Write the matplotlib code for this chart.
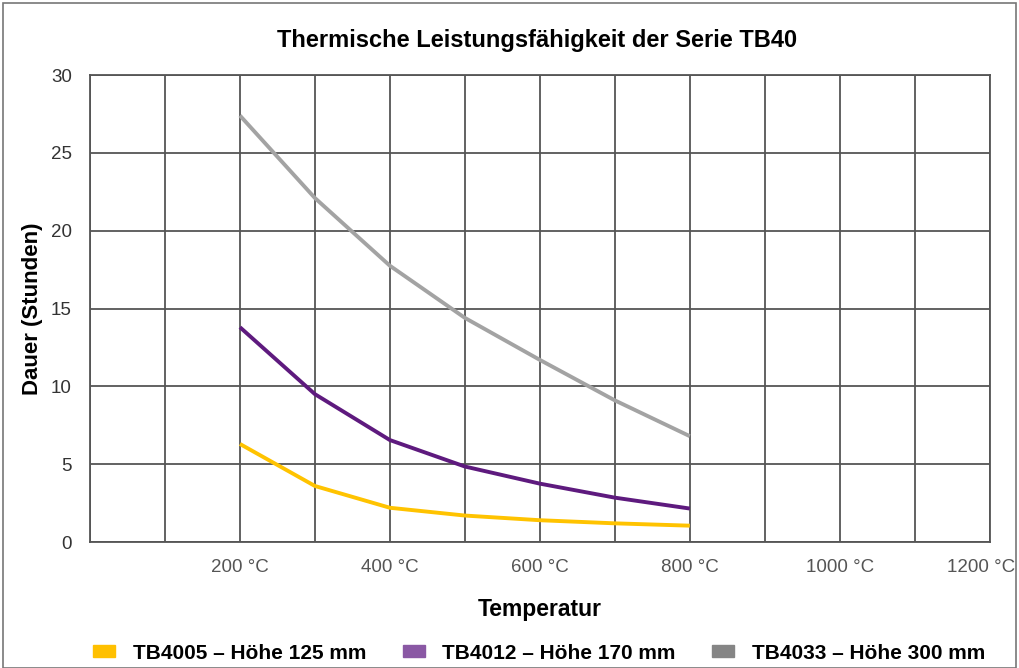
import matplotlib
matplotlib.use('Agg')
import matplotlib.pyplot as plt
from matplotlib.patches import Patch, Rectangle
import matplotlib.transforms as mtransforms

# data
temps = [200, 300, 400, 500, 600, 700, 800]
tb4005 = [6.3, 3.6, 2.2, 1.7, 1.4, 1.2, 1.05]
tb4012 = [13.8, 9.5, 6.55, 4.85, 3.75, 2.85, 2.15]
tb4033 = [27.4, 22.1, 17.75, 14.4, 11.7, 9.1, 6.8]
series_names = ['TB4005 – Höhe 125 mm', 'TB4012 – Höhe 170 mm', 'TB4033 – Höhe 300 mm']
tick_temps = [200, 400, 600, 800, 1000, 1200]

plt.rcParams['font.family'] = ['Liberation Sans', 'DejaVu Sans']

fig = plt.figure(figsize=(10.19, 6.68), dpi=100)
ax = fig.add_axes([0.0883, 0.1886, 0.883, 0.699])

line_cols = ['#FFC300', '#5E1A7E', '#A3A3A3']
legend_cols = ['#FFC000', '#8A58A4', '#858585']

for vals, c in zip([tb4005, tb4012, tb4033], line_cols):
    ax.plot(temps, vals, color=c, lw=2.8, solid_capstyle='butt', zorder=3)

ax.set_xlim(0, 1200)
ax.set_ylim(0, 30)
ax.set_xticks(range(0, 1201, 100), minor=True)
ax.set_xticks(tick_temps)
ax.set_xticklabels([f'{t} °C' for t in tick_temps], fontsize=13.5, color='#555555')
ax.set_yticks(range(0, 31, 5))
ax.tick_params(axis='y', labelsize=13.5, colors='#333333', length=0, pad=13)
ax.tick_params(axis='x', which='both', length=0, pad=12)
ax.grid(True, which='both', color='#555555', lw=1.3, zorder=1)
for s in ax.spines.values():
    s.set_color('#555555')
    s.set_linewidth(1.3)

# nudge last tick label so it stays inside the figure
lbl = ax.get_xticklabels()[-1]
lbl.set_transform(lbl.get_transform() + mtransforms.ScaledTranslation(-0.09, 0, fig.dpi_scale_trans))

ax.set_xlabel('Temperatur', fontsize=16.5, fontweight='bold', labelpad=16)
ax.set_ylabel('Dauer (Stunden)', fontsize=16, fontweight='bold', labelpad=6)
fig.text(0.527, 0.94, 'Thermische Leistungsfähigkeit der Serie TB40',
         ha='center', va='center', fontsize=17, fontweight='bold')

handles = [Patch(color=c) for c in legend_cols]
fig.legend(handles, series_names, loc='center', bbox_to_anchor=(0.529, 0.022), ncol=3,
           frameon=False, prop={'weight': 'bold', 'size': 15},
           handlelength=1.05, handleheight=0.5, handletextpad=0.85, columnspacing=1.75)

fig.add_artist(Rectangle((0.003, 0.0), 0.994, 0.996, transform=fig.transFigure,
                         fill=False, edgecolor='#777777', lw=1.2))

fig.savefig('out.png', dpi=100)
